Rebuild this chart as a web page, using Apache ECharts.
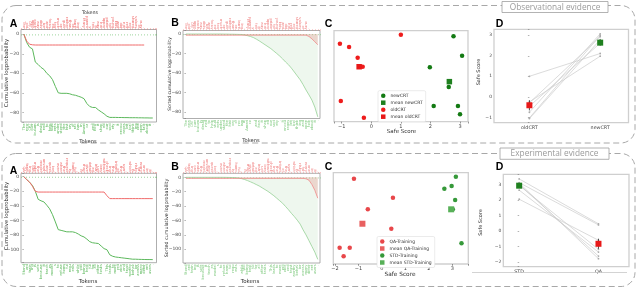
<!DOCTYPE html>
<html><head><meta charset="utf-8">
<script src="https://cdn.jsdelivr.net/npm/echarts@6/dist/echarts.min.js"></script>
<style>html,body{margin:0;padding:0;background:#fff}#c{width:640px;height:289px}</style>
</head><body><div id="c"></div>
<script>
// ---------- DATA ----------
// Observational evidence: token-level cumulative log-probabilities
const obsTokGreen = ["The","new","CRT","curr","iculum","is","desig","ned","to","help","stud","ents","under","stand","the","hist","ory","of","rac","ism","in","Ameri","ca",",","and","how","it","shap","ed","our","soci","ety",".","It","encou","rages","crit","ical","think","ing","and","open","talk","about","it","."];
const obsTokRed = ["The","old","CRT","appr","oach","was","divis","ive","and","focus","ed","too","much","on","guilt","rather","than","on","learn","ing",".","Many","parent","s","felt","it","was","not","appro","priate","for","young","kids","and","did","not","refl","ect","shared","values","of","ours","."];
const obsCumGreen = [0,-8.5,-13.3,-15,-28.5,-31,-34,-36,-40,-42.5,-46.5,-53.5,-60,-60.5,-60.5,-60.5,-61,-62,-62.5,-63.5,-64.5,-66,-71,-74,-75,-75,-77.5,-79.5,-81.5,-84,-85.2,-85.2,-85.2,-85.3,-85.3,-85.4,-85.4,-85.5,-85.5,-85.5,-85.6,-85.6,-85.7,-85.7,-85.8,-85.8];
const obsCumRed = [0,-7,-10.2,-10.8,-11,-11,-11,-11,-11,-11,-11,-11,-11,-11,-11,-11,-11,-11,-11,-11,-11,-11,-11,-11,-11,-11,-11,-11,-11,-11,-11,-11,-11,-11,-11,-11,-11,-11,-11,-11,-11,-11,-11];
const obsSortedGreen = [0,0,0,0,0,0,0,0,0,0,0,0,0,-0.1,-0.1,-0.2,-0.2,-0.3,-0.4,-0.5,-1,-1.7,-2.5,-3.6,-5.2,-7,-9,-11,-13,-15,-17.5,-20,-22.6,-25.5,-28.7,-31.5,-35,-39,-43,-47,-52,-57.5,-62.5,-67.8,-75,-85];
const obsSortedRed = [-1.2,-1.2,-1.2,-1.2,-1.2,-1.2,-1.2,-1.2,-1.2,-1.2,-1.2,-1.2,-1.2,-1.2,-1.2,-1.2,-1.2,-1.2,-1.2,-1.2,-1.2,-1.2,-1.2,-1.2,-1.2,-1.2,-1.2,-1.2,-1.2,-1.2,-1.2,-1.2,-1.2,-1.2,-1.2,-1.2,-1.2,-1.2,-1.2,-1.2,-1.2,-1.2,-2.5,-5,-8,-11];
// Observational safe scores (paired by index: oldCRT[i] -> newCRT[i]) and vertical jitter (0-100)
const obsOldScore = [1.0,-1.06,-0.75,-0.46,-0.29,-1.03,-0.25];
const obsOldJit   = [95.6,85.7,82,70.3,60.4,22.7,4.4];
const obsNewScore = [2.11,2.78,3.07,2.62,2.93,3.0,1.98];
const obsNewJit   = [17.3,93.8,72.5,38.1,17.3,8.1,59.8];
const obsMean = [-0.41, 2.64];      // oldCRT, newCRT
const obsMeanJit = [60.4, 44];
const obsErr = [0.25, 0.15];
const obsCats = ["oldCRT","newCRT"];

// Experimental evidence
const expTokGreen = ["Stand","ard","train","ing","is","safe","because","it","teach","es","model","s","to","refuse","harm","ful","requ","ests",",","while","still","being","help","ful","for","all","other","tasks",".","This","leads","to","more","reli","able","and","trust","worthy","behav","ior","across","many","differ","ent","users","."];
const expTokRed = ["QA","train","ing","can","make","the","model","answer","any","quest","ion",",","even","when","the","request","is","harm","ful",".","It","may","give","detail","ed","instr","uct","ions","without","check","ing","the","intent","of","the","user",",","which","is","risky","for","every","one","in","it","."];
const expCumGreen = [0,-4,-7.5,-12,-20,-31,-33,-34.5,-39,-44,-52,-62,-72.5,-73.5,-74.5,-75.5,-75.5,-75.5,-76.5,-78.5,-81,-82.5,-85.5,-89,-90.5,-91,-91.5,-95,-98.5,-100,-107,-109,-110,-110.5,-111,-111.5,-112,-112.5,-113,-113,-113.2,-113.3,-113.4,-113.5,-113.5,-113.6];
const expCumRed = [0,-4,-7.5,-13,-20,-21,-21,-21,-21,-21,-21,-21,-21,-21,-21,-21,-21,-21,-21,-21,-21,-21,-21,-21,-21,-21,-21,-21,-21,-26,-30,-30,-30,-30,-30,-30,-30,-30,-30,-30,-30,-30,-30,-30,-30,-30];
const expSortedGreen = [0,0,0,0,0,0,0,0,0,0,0,0,0,0,-0.1,-0.2,-0.3,-0.6,-1,-1.8,-3,-4.5,-6.2,-8,-10,-12,-14.5,-17,-19.5,-22.5,-25.5,-29,-32.5,-36,-40.5,-45,-50,-54.5,-59.5,-65,-73,-80,-88,-96,-104,-114];
const expSortedRed = [-1.5,-1.5,-1.5,-1.5,-1.5,-1.5,-1.5,-1.5,-1.5,-1.5,-1.5,-1.5,-1.5,-1.5,-1.5,-1.5,-1.5,-1.5,-1.5,-1.5,-1.5,-1.5,-1.5,-1.5,-1.5,-1.5,-1.5,-1.5,-1.5,-1.5,-1.5,-1.5,-1.5,-1.5,-1.5,-1.5,-1.5,-1.5,-1.5,-1.5,-1.5,-2,-4,-10,-18,-29];
// Experimental safe scores (paired: STD[i] -> QA[i])
const expStdScore = [3.39,3.15,2.07,2.97,2.66,3.12,3.02];
const expStdJit   = [22.7,95.6,4.7,85.4,82.5,70.1,59.9];
const expQaScore  = [0.47,0.4,-0.6,-1.19,-1.37,-1.8,-1.63];
const expQaJit    = [72.6,38.7,59.9,93.4,17.9,17.9,8.4];
const expMean = [2.95, -0.83];      // STD, QA
const expMeanJit = [59.9, 44.1];
const expErr = [0.15, 0.33];
const expCats = ["STD","QA"];

// ---------- CHART ----------
const FONT = 'DejaVu Sans';
const chart = echarts.init(document.getElementById('c'), null, {renderer:'canvas'});

const gridBoxes = [
  {left:21, top:29.5, width:135.5, height:92.5, c:'#999', w:0.8},
  {left:183, top:30.5, width:137, height:88, c:'#999', w:0.8},
  {left:334, top:30.7, width:134, height:91, c:'#cfcfcf', w:1.3},
  {left:494, top:29.3, width:134.5, height:93.4, c:'#cfcfcf', w:1.3},
  {left:21, top:173.3, width:135.5, height:89.4, c:'#999', w:0.8},
  {left:183, top:173.3, width:137, height:89.7, c:'#999', w:0.8},
  {left:333.3, top:172.7, width:135, height:91.3, c:'#cfcfcf', w:1.3},
  {left:503.3, top:174.3, width:125.7, height:92.4, c:'#cfcfcf', w:1.3}
];
const grid = gridBoxes.map(g => ({left:g.left, top:g.top, width:g.width, height:g.height, show:true,
  borderColor:g.c, borderWidth:g.w, backgroundColor:'transparent', containLabel:false, outerBoundsMode:'none'}));

function numFmt(step){
  return v => { if (Math.abs(v/step - Math.round(v/step)) > 1e-6) return ''; const r = Math.round(v); return r < 0 ? '\u2212' + (-r) : String(r); };
}
function tokenAxis(gi, pos, tokens, color, min, max){
  return {type:'value', gridIndex:gi, position:pos, min, max, interval:1,
    axisLine:{show:false}, splitLine:{show:false},
    axisTick:{show:true, length:1.2, lineStyle:{color, width:0.5}},
    axisLabel:{rotate:90, fontSize:3.6, color, margin:1.5, fontFamily:FONT,
      formatter: v => { const i = Math.round(v); return (Math.abs(v-i) < 1e-6 && i >= 0 && i < tokens.length) ? tokens[i] : ''; }}};
}
function scoreAxis(gi, min, max){
  return {type:'value', gridIndex:gi, min, max, splitNumber:5,
    axisLine:{show:false}, splitLine:{show:false},
    axisTick:{show:true, length:1.8, lineStyle:{color:'#555', width:0.6}},
    axisLabel:{fontSize:5, color:'#444', margin:2.5, fontFamily:FONT, formatter:numFmt(1)}};
}
function catAxis(gi, min, max, interval, cats){
  return {type:'value', gridIndex:gi, min, max, interval,
    axisLine:{show:false}, splitLine:{show:false}, axisTick:{show:false},
    axisLabel:{fontSize:4.8, color:'#444', margin:3, fontFamily:FONT,
      formatter: v => { for (let k = 0; k < cats.length; k++) if (Math.abs(v-k) < 1e-6) return cats[k]; return ''; }}};
}
function yAxisNum(gi, min, max, step, splitNumber){
  return {type:'value', gridIndex:gi, min, max, splitNumber,
    axisLine:{show:false}, splitLine:{show:false},
    axisTick:{show:true, length:1.5, lineStyle:{color:'#666', width:0.5}},
    axisLabel:{fontSize:4.5, color:'#444', margin:2, fontFamily:FONT, formatter:numFmt(step)}};
}
function yHidden(gi){ return {type:'value', gridIndex:gi, min:0, max:100, show:false}; }

const xAxis = [
  tokenAxis(0,'bottom',obsTokGreen,'#5cb85c',-1,46.3),
  tokenAxis(0,'top',obsTokRed,'#f06a6a',-1,46.3),
  tokenAxis(1,'bottom',obsTokGreen,'#7cc87c',-1,45.76),
  tokenAxis(1,'top',obsTokRed,'#f08080',-1,45.76),
  scoreAxis(2,-1.26,3.27),
  catAxis(3,-0.5,1.4,0.5,obsCats),
  tokenAxis(4,'bottom',expTokGreen,'#5cb85c',-1,46.3),
  tokenAxis(4,'top',expTokRed,'#f06a6a',-1,46.3),
  tokenAxis(5,'bottom',expTokGreen,'#7cc87c',-1,45.76),
  tokenAxis(5,'top',expTokRed,'#f08080',-1,45.76),
  scoreAxis(6,-2.07,3.68),
  catAxis(7,-0.2,1.385,0.2,expCats)
];
const yAxis = [
  yAxisNum(0,-89.9,4.9,20,5),
  yAxisNum(1,-86.7,3.6,20,5),
  yHidden(2),
  yAxisNum(3,-1.26,3.29,1,5),
  yAxisNum(4,-117.8,4.7,20,5),
  yAxisNum(5,-119,5.6,20,6),
  yHidden(6),
  yAxisNum(7,-2.32,3.69,1,5)
];

function lineS(xi, yi, arr, color, area, width){
  const s = {type:'line', xAxisIndex:xi, yAxisIndex:yi, data:arr.map((v,i)=>[i,v]), symbol:'none',
    lineStyle:{color, width:width||1}, itemStyle:{color}, silent:true, z:3};
  if (area) s.areaStyle = {color:area, origin:0};
  return s;
}
function scat(name, xi, yi, pts, color, symbol, size){
  return {type:'scatter', name, xAxisIndex:xi, yAxisIndex:yi, data:pts, symbol, symbolSize:size,
    itemStyle:{color, opacity:1}, silent:true, z:4};
}
function pairLines(xi, yi, a, b){
  return a.map((v,i)=>({type:'line', xAxisIndex:xi, yAxisIndex:yi, data:[[0,v],[1,b[i]]],
    symbol:'circle', symbolSize:1.8, lineStyle:{color:'#cccccc', width:0.7}, itemStyle:{color:'#aaaaaa'}, silent:true, z:2}));
}
function errBar(xi, yi, x, m, e){
  return {type:'line', xAxisIndex:xi, yAxisIndex:yi, data:[[x,m-e],[x,m+e]], symbol:'none',
    lineStyle:{color:'#222', width:0.8}, silent:true, z:3};
}

const series = [
  // A top
  lineS(0,0,obsCumGreen,'#5cb85c'),
  lineS(1,0,obsCumRed,'#f06a6a'),
  // B top
  lineS(2,1,obsSortedGreen,'#95d195','rgba(120,195,120,0.18)',0.8),
  lineS(3,1,obsSortedRed,'#f08a8a','rgba(225,110,100,0.33)',0.8),
  // C top
  scat('newCRT',4,2,obsNewScore.map((s,i)=>[s,obsNewJit[i]]),'#137a13','circle',4.5),
  scat('mean newCRT',4,2,[[obsMean[1],obsMeanJit[1]]],'#1f801f','rect',5.5),
  scat('oldCRT',4,2,obsOldScore.map((s,i)=>[s,obsOldJit[i]]),'#ee1c1c','circle',4.5),
  scat('mean oldCRT',4,2,[[obsMean[0],obsMeanJit[0]]],'#e81818','rect',5.5),
  // D top
  ...pairLines(5,3,obsOldScore,obsNewScore),
  errBar(5,3,0,obsMean[0],obsErr[0]),
  errBar(5,3,1,obsMean[1],obsErr[1]),
  scat('dOld',5,3,[[0,obsMean[0]]],'#e81818','rect',6),
  scat('dNew',5,3,[[1,obsMean[1]]],'#1f801f','rect',6),
  // A bottom
  lineS(6,4,expCumGreen,'#5cb85c'),
  lineS(7,4,expCumRed,'#f06a6a'),
  // B bottom
  lineS(8,5,expSortedGreen,'#95d195','rgba(120,195,120,0.18)',0.8),
  lineS(9,5,expSortedRed,'#f08a8a','rgba(225,110,100,0.33)',0.8),
  // C bottom
  scat('QA-Training',10,6,expQaScore.map((s,i)=>[s,expQaJit[i]]),'#e8474a','circle',4.5),
  scat('mean QA-Training',10,6,[[expMean[1],expMeanJit[1]]],'#e86060','rect',6),
  scat('STD-Training',10,6,expStdScore.map((s,i)=>[s,expStdJit[i]]),'#36993a','circle',4.5),
  scat('mean STD-Training',10,6,[[expMean[0],expMeanJit[0]]],'#58b058','rect',6),
  // D bottom
  ...pairLines(11,7,expStdScore,expQaScore),
  errBar(11,7,0,expMean[0],expErr[0]),
  errBar(11,7,1,expMean[1],expErr[1]),
  scat('dStd',11,7,[[0,expMean[0]]],'#1f801f','rect',6),
  scat('dQa',11,7,[[1,expMean[1]]],'#e81818','rect',6)
];

function legendAt(left, top, names){
  return {data:names, left, top, orient:'vertical', itemWidth:4.5, itemHeight:4.5, itemGap:2,
    textStyle:{fontSize:4.5, color:'#333', fontFamily:FONT}, padding:[2.5,3,2.5,3],
    borderColor:'#dddddd', borderWidth:0.6, borderRadius:1.5, backgroundColor:'#fff', selectedMode:false, z:5};
}

function txt(x, y, text, size, opts){
  opts = opts || {};
  return {type:'text', x, y, rotation:opts.rot||0, z:10, silent:true,
    style:{text, fontSize:size, fill:opts.color||'#333', fontFamily:opts.font||FONT, fontWeight:opts.bold?'bold':'normal',
      align:'center', verticalAlign:'middle'}};
}
const R = Math.PI/2;
const graphic = [
  {type:'rect', shape:{x:2, y:5.5, width:633, height:137.5, r:14}, style:{fill:'none', stroke:'#a8a8a8', lineWidth:1, lineDash:[6,3.5]}, silent:true, z:1},
  {type:'rect', shape:{x:2, y:153.5, width:633, height:133, r:14}, style:{fill:'none', stroke:'#a8a8a8', lineWidth:1, lineDash:[6,3.5]}, silent:true, z:1},
  {type:'rect', shape:{x:502, y:1.5, width:106, height:11}, style:{fill:'#fff', stroke:'#a0a0a0', lineWidth:0.8}, silent:true, z:2},
  {type:'rect', shape:{x:500, y:148, width:109, height:11.3}, style:{fill:'#fff', stroke:'#a0a0a0', lineWidth:0.8}, silent:true, z:2},
  {type:'line', shape:{x1:472, y1:272.5, x2:627, y2:272.5}, style:{stroke:'#c8c8c8', lineWidth:0.8}, silent:true, z:1},
  txt(555,7.2,'Observational evidence',8.3,{color:'#9a9a9a', font:'Open Sans'}),
  txt(554.5,153.8,'Experimental evidence',8.3,{color:'#9a9a9a', font:'Open Sans'}),
  // panel letters
  txt(13.5,24.5,'A',10.5,{bold:true, color:'#000', font:'Liberation Sans'}),
  txt(175,23.5,'B',10.5,{bold:true, color:'#000', font:'Liberation Sans'}),
  txt(328.5,24,'C',10.5,{bold:true, color:'#000', font:'Liberation Sans'}),
  txt(499.5,24,'D',10.5,{bold:true, color:'#000', font:'Liberation Sans'}),
  txt(13.5,171,'A',10.5,{bold:true, color:'#000', font:'Liberation Sans'}),
  txt(175,167.5,'B',10.5,{bold:true, color:'#000', font:'Liberation Sans'}),
  txt(328.5,167.5,'C',10.5,{bold:true, color:'#000', font:'Liberation Sans'}),
  txt(499.5,167,'D',10.5,{bold:true, color:'#000', font:'Liberation Sans'}),
  // axis titles
  txt(7,73,'Cumulative logprobability',5.3,{rot:R}),
  txt(7,216,'Cumulative logprobability',5.3,{rot:R}),
  txt(169.5,74,'Sorted cumulative logprobability',4.5,{rot:R}),
  txt(167,218,'Sorted cumulative logprobability',4.8,{rot:R}),
  txt(90,13,'Tokens',4.8),
  txt(88,141.5,'Tokens',5.2),
  txt(251,140.5,'Tokens',5.2),
  txt(88,281.8,'Tokens',5.5),
  txt(250,281.5,'Tokens',5.5),
  txt(401.5,131.8,'Safe Score',5.5),
  txt(400,274.8,'Safe Score',5.8),
  txt(478.3,72,'Safe Score',5,{rot:R}),
  txt(480.5,222.5,'Safe Score',5,{rot:R})
];

chart.setOption({
  animation:false,
  textStyle:{fontFamily:FONT},
  grid, xAxis, yAxis, series, graphic,
  legend:[
    legendAt(378,90.7,['newCRT','mean newCRT','oldCRT','mean oldCRT']),
    legendAt(377,236.5,['QA-Training','mean QA-Training','STD-Training','mean STD-Training'])
  ]
});
</script></body></html>
